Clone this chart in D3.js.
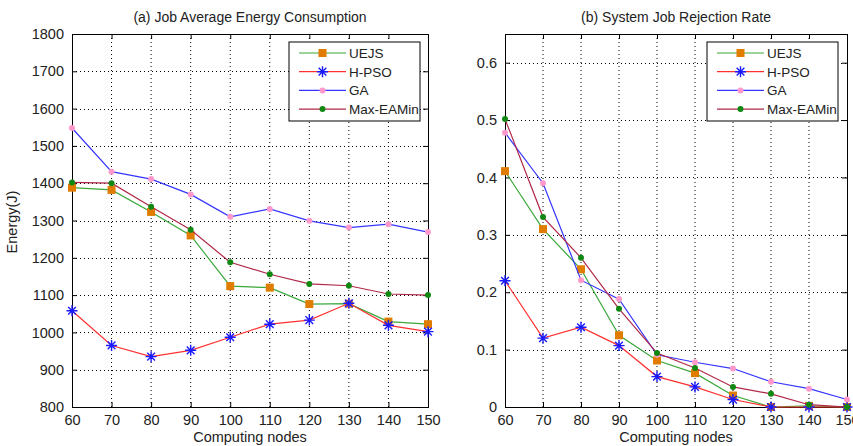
<!DOCTYPE html>
<html>
<head>
<meta charset="utf-8">
<script src="https://cdn.jsdelivr.net/npm/d3@7"></script>
<style>
  body { margin: 0; background: #fff; }
  text { font-family: "Liberation Sans", Arial, sans-serif; fill: #222; }
</style>
</head>
<body>
<div id="chart"></div>
<script>
var nodes = [60, 70, 80, 90, 100, 110, 120, 130, 140, 150];
var seriesNames = ['UEJS', 'H-PSO', 'GA', 'Max-EAMin'];

// (a) energy, J
var energyUEJS   = [1388, 1382, 1323, 1260, 1124, 1120, 1076, 1077, 1029, 1022];
var energyHPSO   = [1058, 965, 935, 952, 987, 1022, 1033, 1078, 1019, 1002];
var energyGA     = [1548, 1431, 1411, 1370, 1310, 1331, 1299, 1281, 1290, 1269];
var energyMaxEAM = [1402, 1400, 1337, 1275, 1188, 1156, 1130, 1125, 1103, 1100];

// (b) rejection rate
var rejUEJS   = [0.411, 0.310, 0.240, 0.125, 0.081, 0.059, 0.020, 0, 0.002, 0];
var rejHPSO   = [0.220, 0.120, 0.139, 0.107, 0.053, 0.035, 0.013, 0, 0, 0];
var rejGA     = [0.478, 0.390, 0.221, 0.188, 0.091, 0.078, 0.067, 0.044, 0.032, 0.013];
var rejMaxEAM = [0.502, 0.331, 0.260, 0.171, 0.094, 0.068, 0.035, 0.023, 0.004, 0];

var energyTicks = [800, 900, 1000, 1100, 1200, 1300, 1400, 1500, 1600, 1700, 1800];
var rejTicks = [0, 0.1, 0.2, 0.3, 0.4, 0.5, 0.6];

var styles = {
  'UEJS':      { line: '#3aa83a', marker: 'square', fill: '#e07d00' },
  'H-PSO':     { line: '#ff3030', marker: 'star',   fill: '#1a1aff' },
  'GA':        { line: '#3535ff', marker: 'dot',    fill: '#ff99cc' },
  'Max-EAMin': { line: '#b02848', marker: 'dot',    fill: '#118811' }
};

var svg = d3.select('#chart').append('svg')
  .attr('width', 853).attr('height', 446);

function drawPanel(opts) {
  var x = d3.scaleLinear().domain([60, 150]).range([opts.left, opts.right]);
  var y = d3.scaleLinear().domain(opts.domain).range([407, 34]);
  var g = svg.append('g');

  // grid
  g.selectAll('.gx').data(nodes.slice(1, -1)).enter().append('line')
    .attr('x1', function(d) { return x(d); }).attr('x2', function(d) { return x(d); })
    .attr('y1', y.range()[0]).attr('y2', y.range()[1])
    .attr('stroke', '#000').attr('stroke-width', 1).attr('stroke-dasharray', '1,3');
  g.selectAll('.gy').data(opts.ticks.filter(function(t) { return t > opts.domain[0] && t < opts.domain[1]; }))
    .enter().append('line')
    .attr('y1', function(d) { return Math.round(y(d)) + 0.5; }).attr('y2', function(d) { return Math.round(y(d)) + 0.5; })
    .attr('x1', opts.left).attr('x2', opts.right)
    .attr('stroke', '#000').attr('stroke-width', 1).attr('stroke-dasharray', '1,3');

  // axes, ticks inward
  var fmt = opts.fmt;
  g.append('g').attr('transform', 'translate(0,407)')
    .call(d3.axisBottom(x).tickValues(nodes).tickSize(-5).tickPadding(8))
    .call(function(a) { a.selectAll('text').attr('font-size', 14.5).attr('font-family', 'Liberation Sans, Arial'); });
  g.append('g').attr('transform', 'translate(0,34)')
    .call(d3.axisTop(x).tickValues(nodes).tickSize(-5).tickFormat(''));
  g.append('g').attr('transform', 'translate(' + opts.left + ',0)')
    .call(d3.axisLeft(y).tickValues(opts.ticks).tickSize(-5).tickPadding(8).tickFormat(fmt))
    .call(function(a) { a.selectAll('text').attr('font-size', 14.5).attr('font-family', 'Liberation Sans, Arial'); });
  g.append('g').attr('transform', 'translate(' + opts.right + ',0)')
    .call(d3.axisRight(y).tickValues(opts.ticks).tickSize(-5).tickFormat(''));
  g.selectAll('.domain').attr('stroke', '#000');
  g.selectAll('.tick line').attr('stroke', '#000');

  // series
  var line = d3.line().x(function(d, i) { return x(nodes[i]); }).y(function(d) { return y(d); });
  opts.series.forEach(function(vals, si) {
    var st = styles[seriesNames[si]];
    g.append('path').datum(vals).attr('d', line)
      .attr('fill', 'none').attr('stroke', st.line).attr('stroke-width', 1.2);
    vals.forEach(function(v, i) {
      drawMarker(g, x(nodes[i]), y(v), st);
    });
  });

  // titles
  svg.append('text').attr('x', (opts.left + opts.right) / 2).attr('y', 22)
    .attr('text-anchor', 'middle').attr('font-size', 14).text(opts.title);
  svg.append('text').attr('x', (opts.left + opts.right) / 2).attr('y', 442)
    .attr('text-anchor', 'middle').attr('font-size', 14.5).text('Computing nodes');
  if (opts.ylabel) {
    svg.append('text').attr('transform', 'translate(17,' + 222 + ') rotate(-90)')
      .attr('text-anchor', 'middle').attr('font-size', 14.5).text(opts.ylabel);
  }

  // legend
  var lx = opts.legendX, ly = 42;
  var lg = svg.append('g');
  lg.append('rect').attr('x', lx).attr('y', ly).attr('width', 131).attr('height', 79)
    .attr('fill', '#fff').attr('stroke', '#000').attr('stroke-width', 1);
  seriesNames.forEach(function(name, i) {
    var st = styles[name];
    var yy = ly + 11 + i * 18.7;
    lg.append('line').attr('x1', lx + 10).attr('x2', lx + 57).attr('y1', yy).attr('y2', yy)
      .attr('stroke', st.line).attr('stroke-width', 1.2);
    drawMarker(lg, lx + 33.5, yy, st);
    lg.append('text').attr('x', lx + 60).attr('y', yy + 5).attr('font-size', 13.5).text(name);
  });
}

function drawMarker(g, cx, cy, st) {
  if (st.marker === 'square') {
    g.append('rect').attr('x', cx - 4).attr('y', cy - 4).attr('width', 8).attr('height', 8)
      .attr('fill', st.fill);
  } else if (st.marker === 'star') {
    var r = 5.5;
    var p = 'M' + (cx - r) + ',' + cy + 'H' + (cx + r) + 'M' + cx + ',' + (cy - r) + 'V' + (cy + r) +
      'M' + (cx - r * 0.7) + ',' + (cy - r * 0.7) + 'L' + (cx + r * 0.7) + ',' + (cy + r * 0.7) +
      'M' + (cx - r * 0.7) + ',' + (cy + r * 0.7) + 'L' + (cx + r * 0.7) + ',' + (cy - r * 0.7);
    g.append('path').attr('d', p).attr('stroke', st.fill).attr('stroke-width', 1.4).attr('fill', 'none');
  } else {
    g.append('circle').attr('cx', cx).attr('cy', cy).attr('r', 3).attr('fill', st.fill);
  }
}

drawPanel({
  left: 72, right: 428, domain: [800, 1800], ticks: energyTicks,
  fmt: d3.format('d'),
  series: [energyUEJS, energyHPSO, energyGA, energyMaxEAM],
  title: '(a) Job Average Energy Consumption', ylabel: 'Energy(J)', legendX: 289
});
drawPanel({
  left: 505, right: 847, domain: [0, 0.65], ticks: rejTicks,
  fmt: function(d) { return d === 0 ? '0' : d3.format('.1f')(d); },
  series: [rejUEJS, rejHPSO, rejGA, rejMaxEAM],
  title: '(b) System Job Rejection Rate', ylabel: null, legendX: 707
});
</script>
</body>
</html>
